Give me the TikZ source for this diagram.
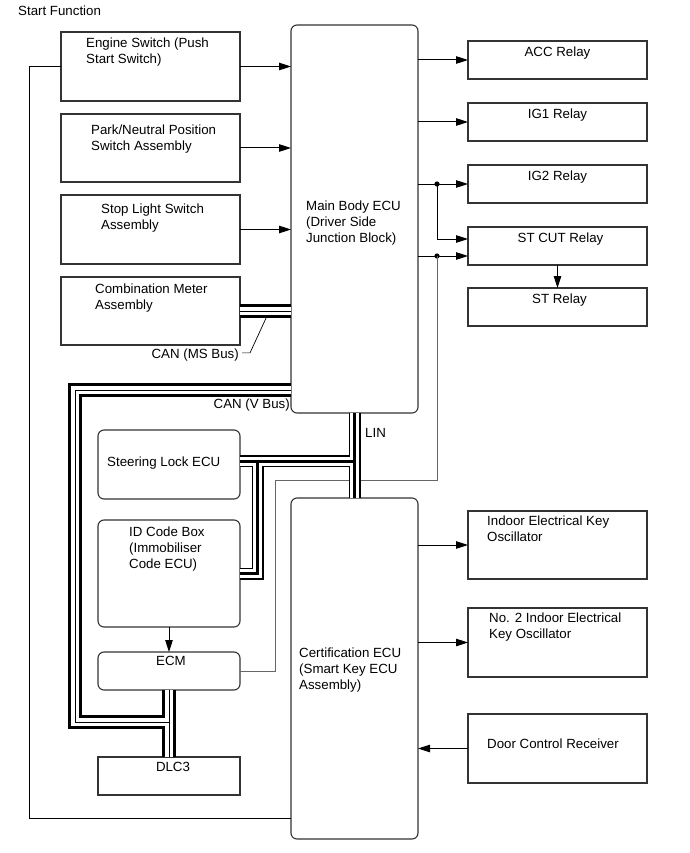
\documentclass[tikz,border=0pt]{standalone}
\usepackage{fontspec}
\setmainfont{Liberation Sans}
\usetikzlibrary{arrows.meta,positioning}
\tikzset{
  blk/.style={draw=black!80,line width=1.1pt,inner sep=0pt,outer sep=0pt,minimum width=179pt},
  relay/.style={blk,minimum height=38pt},
  ecubox/.style={blk,rounded corners=6pt},
  ltxt/.style={inner sep=0pt,align=left,anchor=north west},
  ctxt/.style={inner sep=0pt,align=center,anchor=north},
  rtxt/.style={inner sep=0pt,anchor=north east},
  flow/.style={-{Triangle[length=12pt,width=7.5pt]},line width=1pt},
  wire/.style={line width=1pt},
  gwire/.style={line width=1pt,draw=black!60},
  canbus/.style={line width=14pt,postaction={draw=white,line width=7.5pt},postaction={draw=black,line width=1pt}},
  linbus/.style={line width=12pt,postaction={draw=white,line width=9pt},postaction={draw=black,line width=3pt}},
}

\begin{document}
\begin{tikzpicture}[x=1pt,y=-1pt,font=\fontsize{13.3}{16}\selectfont]
\useasboundingbox (0,0) rectangle (689,853);
\node[ltxt] (title) at (18,6) {Start Function};

% switches on the left
\node[blk,minimum height=69pt,anchor=north west] (eng) at (61,32) {};
\node[blk,minimum height=68pt,below=13pt of eng] (park) {};
\node[blk,minimum height=69pt,below=13pt of park] (stop) {};
\node[blk,minimum height=68pt,below=13pt of stop] (cmeter) {};
\node[ltxt] (eng-l) at ([xshift=25pt,yshift=-6pt]eng.north west) {Engine Switch (Push\\Start Switch)};
\node[ltxt] (park-l) at ([xshift=30pt,yshift=-10.5pt]park.north west) {Park/Neutral Position\\Switch Assembly};
\node[ltxt] (stop-l) at ([xshift=40pt,yshift=-9pt]stop.north west) {Stop Light Switch\\Assembly};
\node[ltxt] (cmeter-l) at ([xshift=34pt,yshift=-7pt]cmeter.north west) {Combination Meter\\Assembly};

% the two ECUs
\node[ecubox,minimum width=127pt,minimum height=388pt,anchor=north west] (mbecu) at (291,25) {};
\node[ltxt] (mbecu-l) at ([xshift=15pt,yshift=-176pt]mbecu.north west) {Main Body ECU\\(Driver Side\\Junction Block)};
\node[ecubox,minimum width=127pt,minimum height=341pt,anchor=north west] (cert) at (291,498) {};
\node[ltxt] (cert-l) at ([xshift=8pt,yshift=-150pt]cert.north west) {Certification ECU\\(Smart Key ECU\\Assembly)};

% relays
\node[relay,anchor=north west] (acc) at (468,41) {};
\node[relay,below=24pt of acc] (ig1) {};
\node[relay,below=24pt of ig1] (ig2) {};
\node[relay,below=24pt of ig2] (stcut) {};
\node[relay,below=23pt of stcut] (st) {};
\node[ctxt] (acc-l) at ([yshift=-6pt]acc.north) {ACC Relay};
\node[ctxt] (ig1-l) at ([yshift=-6pt]ig1.north) {IG1 Relay};
\node[ctxt] (ig2-l) at ([yshift=-6pt]ig2.north) {IG2 Relay};
\node[ctxt] (stcut-l) at ([xshift=3pt,yshift=-6pt]stcut.north) {ST CUT Relay};
\node[ctxt] (st-l) at ([xshift=2pt,yshift=-5.5pt]st.north) {ST Relay};

% key oscillators and receiver
\node[blk,minimum height=68pt,anchor=north west] (indoor) at (468,511) {};
\node[blk,minimum height=69pt,below=29pt of indoor] (no2) {};
\node[blk,minimum height=69pt,below=37pt of no2] (door) {};
\node[ltxt] (indoor-l) at ([xshift=19pt,yshift=-5pt]indoor.north west) {Indoor Electrical Key\\Oscillator};
\node[ltxt] (no2-l) at ([xshift=21pt,yshift=-5pt]no2.north west) {No. 2 Indoor Electrical\\Key Oscillator};
\node[ltxt] (door-l) at ([xshift=19pt,yshift=-25pt]door.north west) {Door Control Receiver};

% immobiliser side
\node[ecubox,minimum width=142pt,minimum height=69pt,anchor=north west] (slock) at (98,430) {};
\node[ecubox,minimum width=142pt,minimum height=107pt,below=21pt of slock] (idbox) {};
\node[ecubox,minimum width=142pt,minimum height=38pt,below=25pt of idbox] (ecm) {};
\node[blk,minimum width=142pt,minimum height=38pt,below=67pt of ecm] (dlc) {};
\node[ltxt] (slock-l) at ([xshift=9pt,yshift=-27pt]slock.north west) {Steering Lock ECU};
\node[ltxt] (idbox-l) at ([xshift=31pt,yshift=-7pt]idbox.north west) {ID Code Box\\(Immobiliser\\Code ECU)};
\node[ctxt] (ecm-l) at ([xshift=2pt,yshift=-4.5pt]ecm.north) {ECM};
\node[ctxt] (dlc-l) at ([xshift=4pt,yshift=-5pt]dlc.north) {DLC3};

% bends and junctions
\coordinate (d1) at ([xshift=-31pt]ig2.west);
\coordinate (d2) at ([xshift=-31pt,yshift=-10pt]stcut.west);
\coordinate (g1) at (275,480);
\coordinate (lp) at (29,818);
\coordinate (vb1) at (75,390);
\coordinate (vb2) at (75,722);
\coordinate (lb1) at (257.5,461);

% signal lines
\draw[flow] (eng.east) -- (eng.east -| mbecu.west);
\draw[flow] (park.east) -- (park.east -| mbecu.west);
\draw[flow] (stop.east) -- (stop.east -| mbecu.west);
\draw[flow] (mbecu.east |- acc) -- (acc.west);
\draw[flow] (mbecu.east |- ig1) -- (ig1.west);
\draw[flow] (mbecu.east |- ig2) -- (ig2.west);
\draw[flow] (d1) |- ([yshift=7pt]stcut.west);
\draw[flow] (mbecu.east |- d2) -- (d2 -| stcut.west);
\draw[flow] (stcut.south) -- (st.north);
\fill (d1) circle (2.6pt);
\fill (d2) circle (2.6pt);
\draw[flow] (cert.east |- indoor) -- (indoor.west);
\draw[flow] (cert.east |- no2) -- (no2.west);
\draw[flow] (door.west) -- (door.west -| cert.east);
\draw[flow] (idbox.south) -- (ecm.north);
\draw[wire] (eng.west) -| (lp) -- (lp -| cert.west);
\draw[gwire] (ecm.east) -| (g1) -| (d2);

% buses
\draw[canbus] (cmeter.east) -- (cmeter.east -| mbecu.west);
\draw[canbus] (mbecu.west |- vb1) -- (vb1) -- (vb2) -| (dlc.north) (ecm.south) -- (dlc.north);
\draw[linbus] (mbecu.south) -- (cert.north) (slock.east |- lb1) -- (mbecu.south |- lb1) (lb1) |- (idbox.east);

\node[rtxt] (msl) at (239,349) {CAN (MS Bus)};
\draw[line width=0.7pt] ([xshift=3pt,yshift=2.5pt]msl.east) -- ++(8,0) -- ([xshift=27pt,yshift=-5pt]cmeter.east);
\node[rtxt] (vbl) at (290,399) {CAN (V Bus)};
\node[ltxt] (linl) at ([xshift=10.5pt,yshift=-15pt]mbecu.south) {LIN};
\end{tikzpicture}
\end{document}
